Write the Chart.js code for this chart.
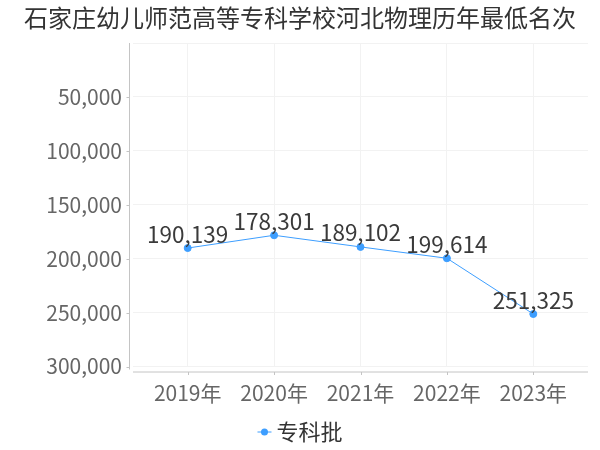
<!DOCTYPE html>
<html lang="zh">
<head>
  <meta charset="UTF-8">
  <title>石家庄幼儿师范高等专科学校河北物理历年最低名次</title>
  <script src="https://cdn.jsdelivr.net/npm/chart.js@4/dist/chart.umd.min.js"></script>
  <style>
    html, body { margin: 0; padding: 0; background: #fff; }
    #wrap { width: 600px; height: 450px; }
  </style>
</head>
<body>
  <div id="wrap"><canvas id="rankChart" width="600" height="450"></canvas></div>
  <script>
    // data
    const years = ['2019年', '2020年', '2021年', '2022年', '2023年'];
    const ranks = [190139, 178301, 189102, 199614, 251325];
    const seriesName = '专科批';
    const titleText = '石家庄幼儿师范高等专科学校河北物理历年最低名次';
    const yTicks = [0, 50000, 100000, 150000, 200000, 250000, 300000];

    const blue = '#3d9eff';
    const cjk = '"Noto Sans CJK SC", "Noto Sans", sans-serif';
    const fmt = v => v.toLocaleString('en-US');

    // axis lines sit a few px off the plot, so draw them by hand; title + legend too
    const axisLines = {
      id: 'axisLines',
      afterDraw(chart) {
        const { ctx, chartArea: a, scales: { x, y } } = chart;
        const ax = a.left - 3.5, ay = a.bottom + 5.5;
        ctx.save();
        ctx.strokeStyle = '#c4c4c4';
        ctx.lineWidth = 1;
        ctx.beginPath();
        ctx.moveTo(ax, a.top);
        ctx.lineTo(ax, a.bottom + 3);
        ctx.moveTo(a.left, ay);
        ctx.lineTo(a.right, ay);
        y.ticks.forEach(t => {
          if (t.value === 0) return;
          const py = Math.round(y.getPixelForValue(t.value)) + 0.5;
          ctx.moveTo(ax - 3, py);
          ctx.lineTo(ax, py);
        });
        x.ticks.forEach(t => {
          const px = Math.round(x.getPixelForValue(t.value)) + 0.5;
          ctx.moveTo(px, ay);
          ctx.lineTo(px, ay + 3);
        });
        ctx.stroke();

        // title
        const cx = chart.width / 2;
        ctx.fillStyle = '#333';
        ctx.font = '24px ' + cjk;
        ctx.textAlign = 'center';
        ctx.textBaseline = 'middle';
        ctx.fillText(titleText, cx, 18);

        // legend
        const ly = 432;
        ctx.font = '22px ' + cjk;
        const tw = ctx.measureText(seriesName).width;
        const x0 = cx - (tw + 19) / 2;
        ctx.strokeStyle = blue;
        ctx.beginPath();
        ctx.moveTo(x0, ly);
        ctx.lineTo(x0 + 14, ly);
        ctx.stroke();
        ctx.fillStyle = blue;
        ctx.beginPath();
        ctx.arc(x0 + 7, ly, 3.5, 0, Math.PI * 2);
        ctx.fill();
        ctx.fillStyle = '#333';
        ctx.textAlign = 'left';
        ctx.fillText(seriesName, x0 + 19, ly);
        ctx.restore();
      }
    };

    // value labels above each point
    const valueLabels = {
      id: 'valueLabels',
      afterDatasetsDraw(chart) {
        const { ctx } = chart;
        const meta = chart.getDatasetMeta(0);
        ctx.save();
        ctx.font = '22.5px ' + cjk;
        ctx.fillStyle = '#3a3a3a';
        ctx.textAlign = 'center';
        ctx.textBaseline = 'middle';
        meta.data.forEach((pt, i) => {
          ctx.fillText(fmt(ranks[i]), pt.x, pt.y - 14);
        });
        ctx.restore();
      }
    };

    new Chart(document.getElementById('rankChart'), {
      type: 'line',
      data: {
        datasets: [{
          label: seriesName,
          data: ranks.map((v, i) => ({ x: i, y: v })),
          borderColor: blue,
          backgroundColor: blue,
          borderWidth: 1,
          pointRadius: 3.5,
          pointHoverRadius: 3.5,
          tension: 0
        }]
      },
      options: {
        responsive: false,
        animation: false,
        devicePixelRatio: 1,
        layout: { padding: { left: 0, right: 12, top: 43, bottom: 0 } },
        plugins: {
          legend: { display: false },
          tooltip: { enabled: false },
          title: { display: false }
        },
        scales: {
          x: {
            type: 'linear',
            min: -0.633,
            max: years.length - 1 + 0.633,
            border: { display: false },
            grid: { color: '#f2f2f2', drawTicks: false },
            afterFit(s) { s.height = 83.5; },
            afterBuildTicks(s) { s.ticks = years.map((_, i) => ({ value: i })); },
            ticks: {
              padding: 14,
              maxRotation: 0,
              autoSkip: false,
              color: '#666',
              font: { family: cjk, size: 21 },
              callback: v => years[v]
            }
          },
          y: {
            reverse: true,
            min: 0,
            max: 300000,
            border: { display: false },
            grid: { color: '#f2f2f2', drawTicks: false },
            afterFit(s) { s.width = 133; },
            afterBuildTicks(s) { s.ticks = yTicks.map(v => ({ value: v })); },
            ticks: {
              padding: 11,
              color: '#666',
              font: { family: cjk, size: 21 },
              callback: v => v === 0 ? '' : fmt(v)
            }
          }
        }
      },
      plugins: [axisLines, valueLabels]
    });
  </script>
</body>
</html>
